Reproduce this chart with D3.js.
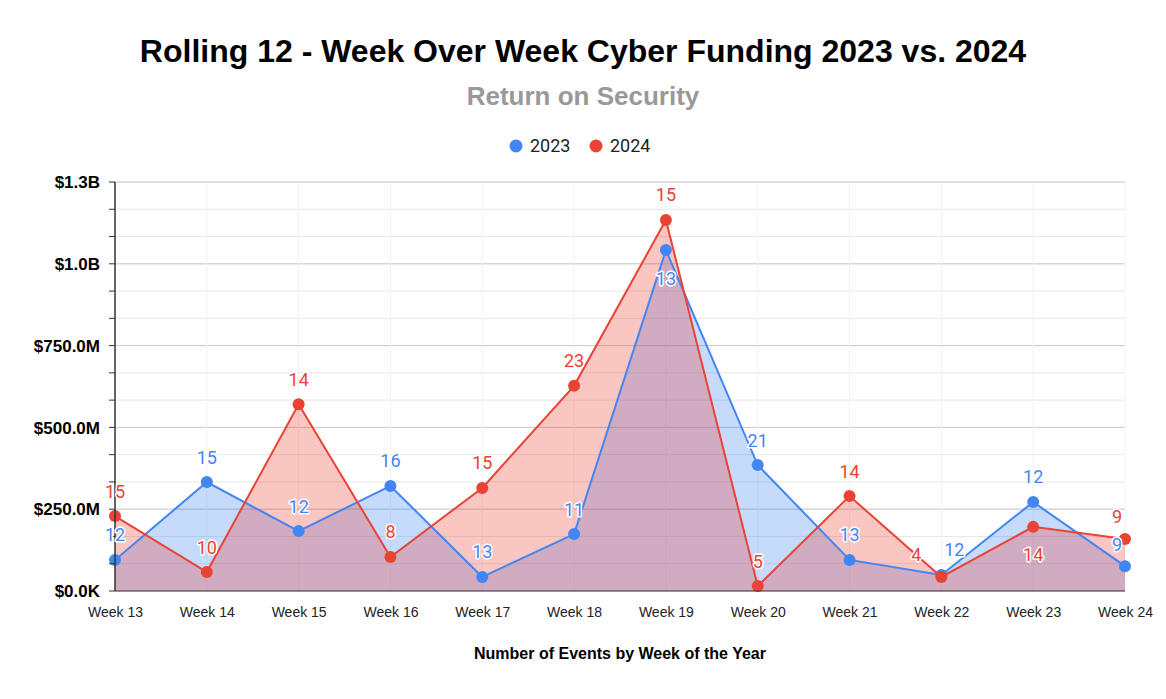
<!DOCTYPE html>
<html><head><meta charset="utf-8">
<script src="https://cdn.jsdelivr.net/npm/d3@7/dist/d3.min.js"></script>
<style>body{margin:0;background:#fff;font-family:"Liberation Sans",Arial,sans-serif}</style>
</head><body><svg id="c" width="1166" height="699"></svg>
<script>
const categories = ["Week 13","Week 14","Week 15","Week 16","Week 17","Week 18","Week 19","Week 20","Week 21","Week 22","Week 23","Week 24"];
const funding2023 = [95e6,333e6,183e6,321e6,43e6,174e6,1042e6,385e6,95e6,49e6,272e6,76e6];
const funding2024 = [229e6,58e6,571e6,104e6,315e6,627e6,1134e6,15e6,290e6,43e6,196e6,159e6];
const events2023 = [12,15,12,16,13,11,13,21,13,12,12,9];
const events2024 = [15,10,14,8,15,23,15,5,14,4,14,9];
// label position: "a" above, "b" below, "l" above-left, "r" above-right
const pos2023 = ["a","a","a","a","a","a","b","a","a","r","a","l"];
const pos2024 = ["a","a","a","a","a","a","a","a","a","l","b","l"];
const yTickValues = [0,250e6,500e6,750e6,1000e6,1250e6];
const yTickLabels = ["$0.0K","$250.0M","$500.0M","$750.0M","$1.0B","$1.3B"];
const minorTicks = d3.range(0,1250e6+1,250e6/3);

const sans = "'Liberation Sans',Arial,sans-serif";
const roboto = "Roboto,Arial,sans-serif";
const svg = d3.select("#c");
const x = d3.scalePoint().domain(categories).range([115,1125]);
const y = d3.scaleLinear().domain([0,1250e6]).range([591,182]);

// gridlines
svg.append("g").selectAll("line").data(minorTicks).join("line")
  .attr("x1",115).attr("x2",1125).attr("y1",d=>y(d)).attr("y2",d=>y(d))
  .attr("stroke","#e6e6e6").attr("stroke-width",1);
svg.append("g").selectAll("line").data(yTickValues.slice(1)).join("line")
  .attr("x1",115).attr("x2",1125).attr("y1",d=>y(d)).attr("y2",d=>y(d))
  .attr("stroke","#cccccc").attr("stroke-width",1);
svg.append("g").selectAll("line").data(categories).join("line")
  .attr("x1",d=>x(d)).attr("x2",d=>x(d)).attr("y1",182).attr("y2",591)
  .attr("stroke","#f2f2f2").attr("stroke-width",1);

const series = [
  {vals:funding2023, ev:events2023, pos:pos2023, color:"#4285F4"},
  {vals:funding2024, ev:events2024, pos:pos2024, color:"#EA4335"}
];
const area = d3.area().x((d,i)=>x(categories[i])).y0(y(0)).y1(d=>y(d));
const line = d3.line().x((d,i)=>x(categories[i])).y(d=>y(d));
series.forEach(s=>{
  svg.append("path").attr("d",area(s.vals)).attr("fill",s.color).attr("fill-opacity",0.3);
});
series.forEach(s=>{
  svg.append("path").attr("d",line(s.vals)).attr("fill","none").attr("stroke",s.color).attr("stroke-width",2);
  svg.append("g").selectAll("circle").data(s.vals).join("circle")
    .attr("cx",(d,i)=>x(categories[i])).attr("cy",d=>y(d)).attr("r",6).attr("fill",s.color);
});

// axes
const yAxis = svg.append("g").attr("transform","translate(115,0)");
yAxis.append("line").attr("x1",0).attr("x2",0).attr("y1",182).attr("y2",591).attr("stroke","#333").attr("stroke-width",1.5);
yAxis.selectAll("line.t").data(minorTicks).join("line").attr("class","t")
  .attr("x1",-6).attr("x2",0).attr("y1",d=>y(d)).attr("y2",d=>y(d)).attr("stroke","#333");
yAxis.selectAll("text").data(yTickValues).join("text")
  .attr("x",-15).attr("y",d=>y(d)).attr("dy","0.36em").attr("text-anchor","end")
  .attr("font-family",sans).attr("font-size",17).attr("font-weight","bold").attr("fill","#000")
  .text((d,i)=>yTickLabels[i]);
svg.append("line").attr("x1",115).attr("x2",1125).attr("y1",591).attr("y2",591).attr("stroke","#333").attr("stroke-width",1.2);
const xAxis = d3.axisBottom(x).tickSize(0).tickPadding(9);
const gx = svg.append("g").attr("transform","translate(0,598)").call(xAxis);
gx.select(".domain").remove();
gx.selectAll("text").attr("font-size",14).attr("font-family",sans).attr("fill","#222");

// data labels
series.forEach(s=>{
  s.vals.forEach((v,i)=>{
    const p = s.pos[i];
    let lx = x(categories[i]), ly = y(v) - 25, anchor="middle";
    if(p==="b") ly = y(v)+28;
    if(p==="l"){ lx = lx-3; anchor="end"; ly = y(v)-22; }
    if(p==="r"){ lx = lx+13; }
    if(p==="l" && i===9){ lx = lx-17; }
    svg.append("text").attr("x",lx).attr("y",ly).attr("dy","0.36em").attr("text-anchor",anchor)
      .attr("font-family",roboto).attr("font-size",18).attr("fill",s.color)
      .attr("stroke","#fff").attr("stroke-width",3).attr("paint-order","stroke").attr("stroke-linejoin","round")
      .text(s.ev[i]);
  });
});

// titles
svg.append("text").attr("x",583).attr("y",62).attr("text-anchor","middle")
  .attr("font-family",sans).attr("font-size",32).attr("font-weight","bold").attr("fill","#000")
  .text("Rolling 12 - Week Over Week Cyber Funding 2023 vs. 2024");
svg.append("text").attr("x",583).attr("y",105).attr("text-anchor","middle")
  .attr("font-family",sans).attr("font-size",26).attr("font-weight","bold").attr("fill","#999")
  .text("Return on Security");
svg.append("text").attr("x",620).attr("y",659).attr("text-anchor","middle")
  .attr("font-family",sans).attr("font-size",16).attr("font-weight","bold").attr("fill","#000")
  .text("Number of Events by Week of the Year");

// legend
const legend = [{name:"2023",color:"#4285F4",x:516},{name:"2024",color:"#EA4335",x:596}];
const lg = svg.append("g");
legend.forEach(l=>{
  lg.append("circle").attr("cx",l.x).attr("cy",146).attr("r",6.5).attr("fill",l.color);
  lg.append("text").attr("x",l.x+14).attr("y",146).attr("dy","0.36em").attr("font-family",roboto).attr("font-size",18).attr("fill","#222").text(l.name);
});
</script></body></html>
